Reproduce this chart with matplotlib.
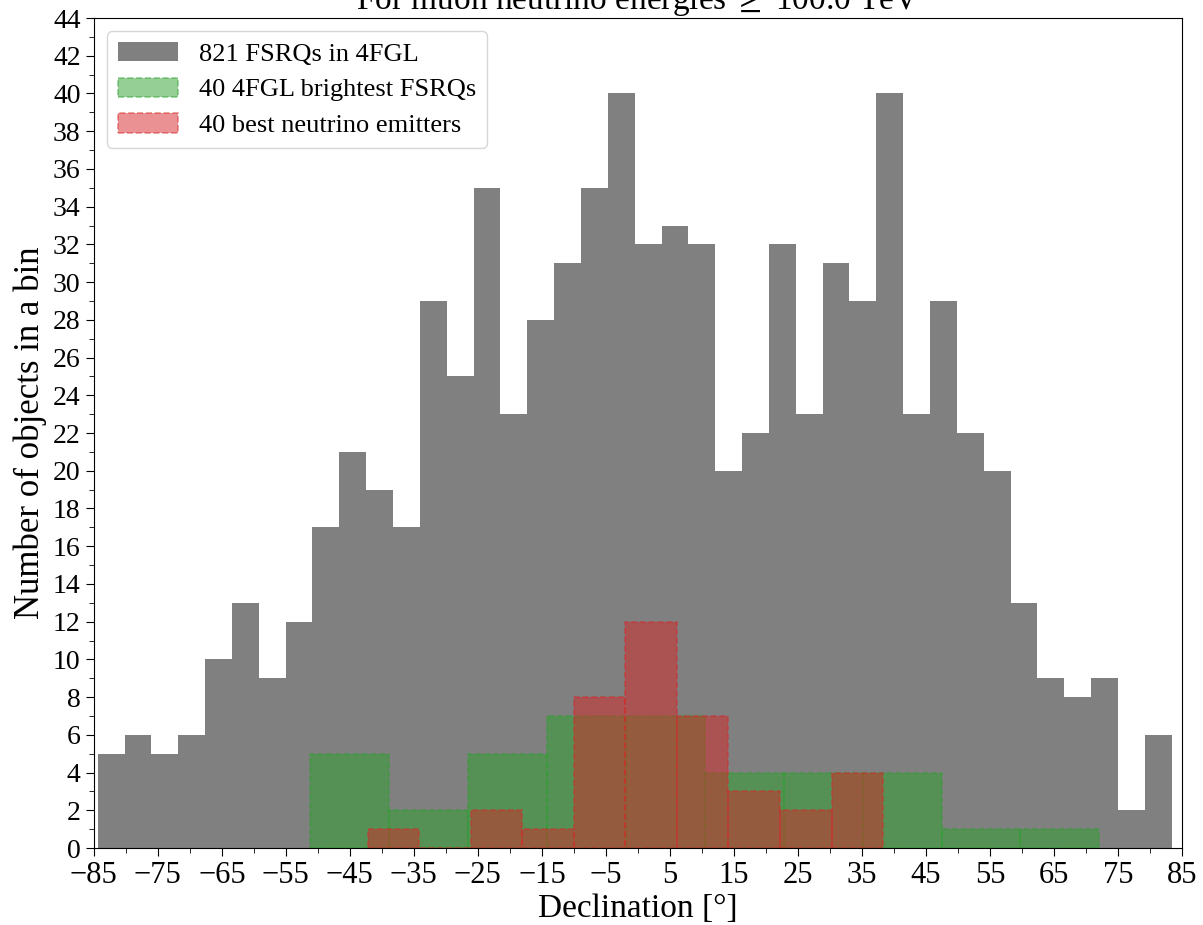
import numpy as np
import matplotlib
matplotlib.use("Agg")
import matplotlib.pyplot as plt
from matplotlib.ticker import MultipleLocator

plt.rcParams['font.family'] = ['Liberation Serif', 'DejaVu Serif']
plt.rcParams['mathtext.fontset'] = 'stix'

# ---- data ----
all_counts = [5, 6, 5, 6, 10, 13, 9, 12, 17, 21, 19, 17, 29, 25, 35, 23, 28, 31, 35, 40,
              32, 33, 32, 20, 22, 32, 23, 31, 29, 40, 23, 29, 22, 20, 13, 9, 8, 9, 2, 6]
all_range = (-84.4, 83.4)

bright_counts = [5, 2, 5, 7, 7, 4, 4, 4, 1, 1]
bright_range = (-51.2, 72.1)

nu_counts = [1, 0, 2, 1, 8, 12, 7, 3, 2, 4]
nu_range = (-42.2, 38.3)

labels = ["821 FSRQs in 4FGL", "40 4FGL brightest FSRQs", "40 best neutrino emitters"]
title = "For muon neutrino energies $\\geq$ 100.0 TeV"


def edges(rng, counts):
    return np.linspace(rng[0], rng[1], len(counts) + 1)


fig = plt.figure(figsize=(12.03, 9.25), dpi=100)
ax = fig.add_axes([0.078, 0.0832, 0.9045, 0.8973])

e_all = edges(all_range, all_counts)
ax.hist(e_all[:-1], bins=e_all, weights=all_counts, color='gray', label=labels[0])

e_b = edges(bright_range, bright_counts)
ax.hist(e_b[:-1], bins=e_b, weights=bright_counts, color='tab:green', alpha=0.5,
        edgecolor='tab:green', linestyle='--', linewidth=1.2, label=labels[1])

e_n = edges(nu_range, nu_counts)
ax.hist(e_n[:-1], bins=e_n, weights=nu_counts, color='tab:red', alpha=0.5,
        edgecolor='tab:red', linestyle='--', linewidth=1.2, label=labels[2])

ax.set_xlim(-85, 85)
ax.set_ylim(0, 44)
ax.xaxis.set_major_locator(MultipleLocator(10))
ax.xaxis.set_minor_locator(MultipleLocator(5))
ax.yaxis.set_major_locator(MultipleLocator(2))
ax.yaxis.set_minor_locator(MultipleLocator(1))
ax.set_xticks(np.arange(-85, 86, 10))
ax.tick_params(axis='x', which='major', labelsize=22, length=6)
ax.tick_params(axis='y', which='major', labelsize=20, length=6)
ax.tick_params(which='minor', length=3.5)

ax.set_xlabel("Declination [°]", fontsize=24, labelpad=2)
ax.set_ylabel("Number of objects in a bin", fontsize=25, labelpad=4)
ax.set_title(title, fontsize=24)

ax.legend(loc='upper left', fontsize=19, handlelength=2.3, handleheight=0.75,
          labelspacing=0.45, borderpad=0.4)

fig.savefig("out.png", dpi=100)
